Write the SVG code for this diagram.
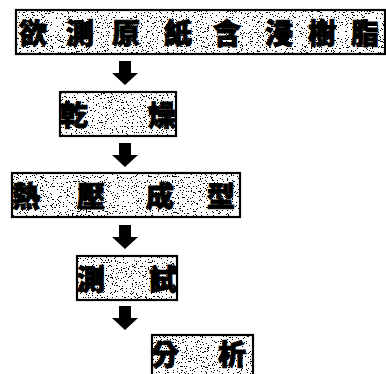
<svg xmlns="http://www.w3.org/2000/svg" width="386" height="374" viewBox="0 0 386 374">
  <style>
    .bg { fill: #ffffff; filter: url(#grain); }
    .frame { fill: none; stroke: #000; stroke-width: 2.2; }
    .lbl { font-family: "Noto Sans CJK TC", "Noto Sans CJK SC", sans-serif; font-weight: 900; font-size: 28px; fill: #000; stroke: #000; stroke-width: 1; text-anchor: middle; dominant-baseline: central; }
    .arrow { fill: #000; }
  </style>
  <defs>
    <!-- speckled halftone fill for the step boxes -->
    <filter id="grain" x="0" y="0" width="100%" height="100%" color-interpolation-filters="sRGB">
      <feTurbulence type="fractalNoise" baseFrequency="0.8" numOctaves="3" seed="7" result="noise"/>
      <feColorMatrix in="noise" type="matrix" values="0 0 0 0 0  0 0 0 0 0  0 0 0 0 0  -3 0 0 0 1.55" result="mask"/>
      <feComponentTransfer in="mask" result="dots">
        <feFuncA type="discrete" tableValues="0 1"/>
      </feComponentTransfer>
      <feComposite in="dots" in2="SourceAlpha" operator="in" result="clipped"/>
      <feMerge>
        <feMergeNode in="SourceGraphic"/>
        <feMergeNode in="clipped"/>
      </feMerge>
    </filter>
    <path id="down" d="M-6,0 H6 V12 H13 L0,24 L-13,12 H-6 Z"/>
  </defs>

  <g id="connectors">
    <use href="#down" class="arrow" x="125" y="61"/>
    <use href="#down" class="arrow" x="125" y="143"/>
    <use href="#down" class="arrow" x="125" y="225"/>
    <use href="#down" class="arrow" x="125" y="306"/>
  </g>

  <g id="impregnate">
    <rect class="bg" x="16" y="10" width="369" height="44"/>
    <rect class="frame" x="16" y="10" width="369" height="44"/>
    <text class="lbl" x="33 80 126 178 227 279 322 365" y="32">欲測原紙含浸樹脂</text>
  </g>

  <g id="dry">
    <rect class="bg" x="60" y="92" width="116" height="44"/>
    <rect class="frame" x="60" y="92" width="116" height="44"/>
    <text class="lbl" x="74 162" y="114">乾燥</text>
  </g>

  <g id="hotpress">
    <rect class="bg" x="12" y="173" width="228" height="44"/>
    <rect class="frame" x="12" y="173" width="228" height="44"/>
    <text class="lbl" x="26 91 160 221" y="195">熱壓成型</text>
  </g>

  <g id="test">
    <rect class="bg" x="77" y="256" width="100" height="44"/>
    <rect class="frame" x="77" y="256" width="100" height="44"/>
    <text class="lbl" x="91 163" y="278">測試</text>
  </g>

  <g id="analyze">
    <rect class="bg" x="152" y="335" width="101" height="44"/>
    <rect class="frame" x="152" y="335" width="101" height="44"/>
    <text class="lbl" x="165 232" y="353">分析</text>
  </g>
</svg>
